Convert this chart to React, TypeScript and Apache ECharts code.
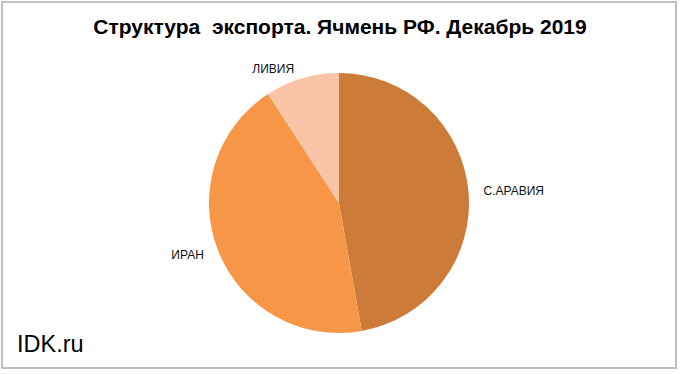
import React, { useEffect, useRef } from "react";
import * as echarts from "echarts";

const titleText = "Структура  экспорта. Ячмень РФ. Декабрь 2019";
const countries = ["С.АРАВИЯ", "ИРАН", "ЛИВИЯ"];
const shares = [47.2, 43.6, 9.2];
const colors = ["#CC7B38", "#F79646", "#FAC4A7"];
const watermark = "IDK.ru";

export default function App() {
  const ref = useRef<HTMLDivElement>(null);
  useEffect(() => {
    if (!ref.current) return;
    const chart = echarts.init(ref.current, null, { renderer: "svg" });
    chart.setOption({
      animation: false,
      backgroundColor: "#ffffff",
      title: {
        text: titleText,
        left: "center",
        top: 11,
        textStyle: {
          fontFamily: "Liberation Sans, Arial, sans-serif",
          fontWeight: "bold",
          fontSize: 21,
          color: "#000000",
        },
      },
      graphic: [
        {
          type: "rect",
          shape: { x: 2, y: 2, width: 674, height: 366 },
          style: { fill: "none", stroke: "#BFBFBF", lineWidth: 2 },
          silent: true,
        },
        {
          type: "text",
          left: 17,
          top: 332,
          style: {
            text: watermark,
            fontFamily: "Liberation Sans, Arial, sans-serif",
            fontSize: 23.5,
            fill: "#000000",
          },
        },
      ],
      series: [
        {
          type: "pie",
          center: [339, 203],
          radius: 130,
          startAngle: 90,
          clockwise: true,
          avoidLabelOverlap: false,
          data: countries.map((name, i) => ({
            name,
            value: shares[i],
            itemStyle: { color: colors[i] },
          })),
          itemStyle: { borderColor: "#ffffff", borderWidth: 0 },
          label: {
            show: true,
            position: "outside",
            formatter: "{b}",
            fontFamily: "Liberation Sans, Arial, sans-serif",
            fontSize: 12,
            color: "#111111",
            distanceToLabelLine: 5,
          },
          labelLine: { show: false, length: 10, length2: 0 },
          emphasis: { disabled: true },
        },
      ],
    });
    return () => chart.dispose();
  }, []);
  return (
    <div
      ref={ref}
      style={{ position: "fixed", left: 0, top: 0, width: 680, height: 374 }}
    />
  );
}
